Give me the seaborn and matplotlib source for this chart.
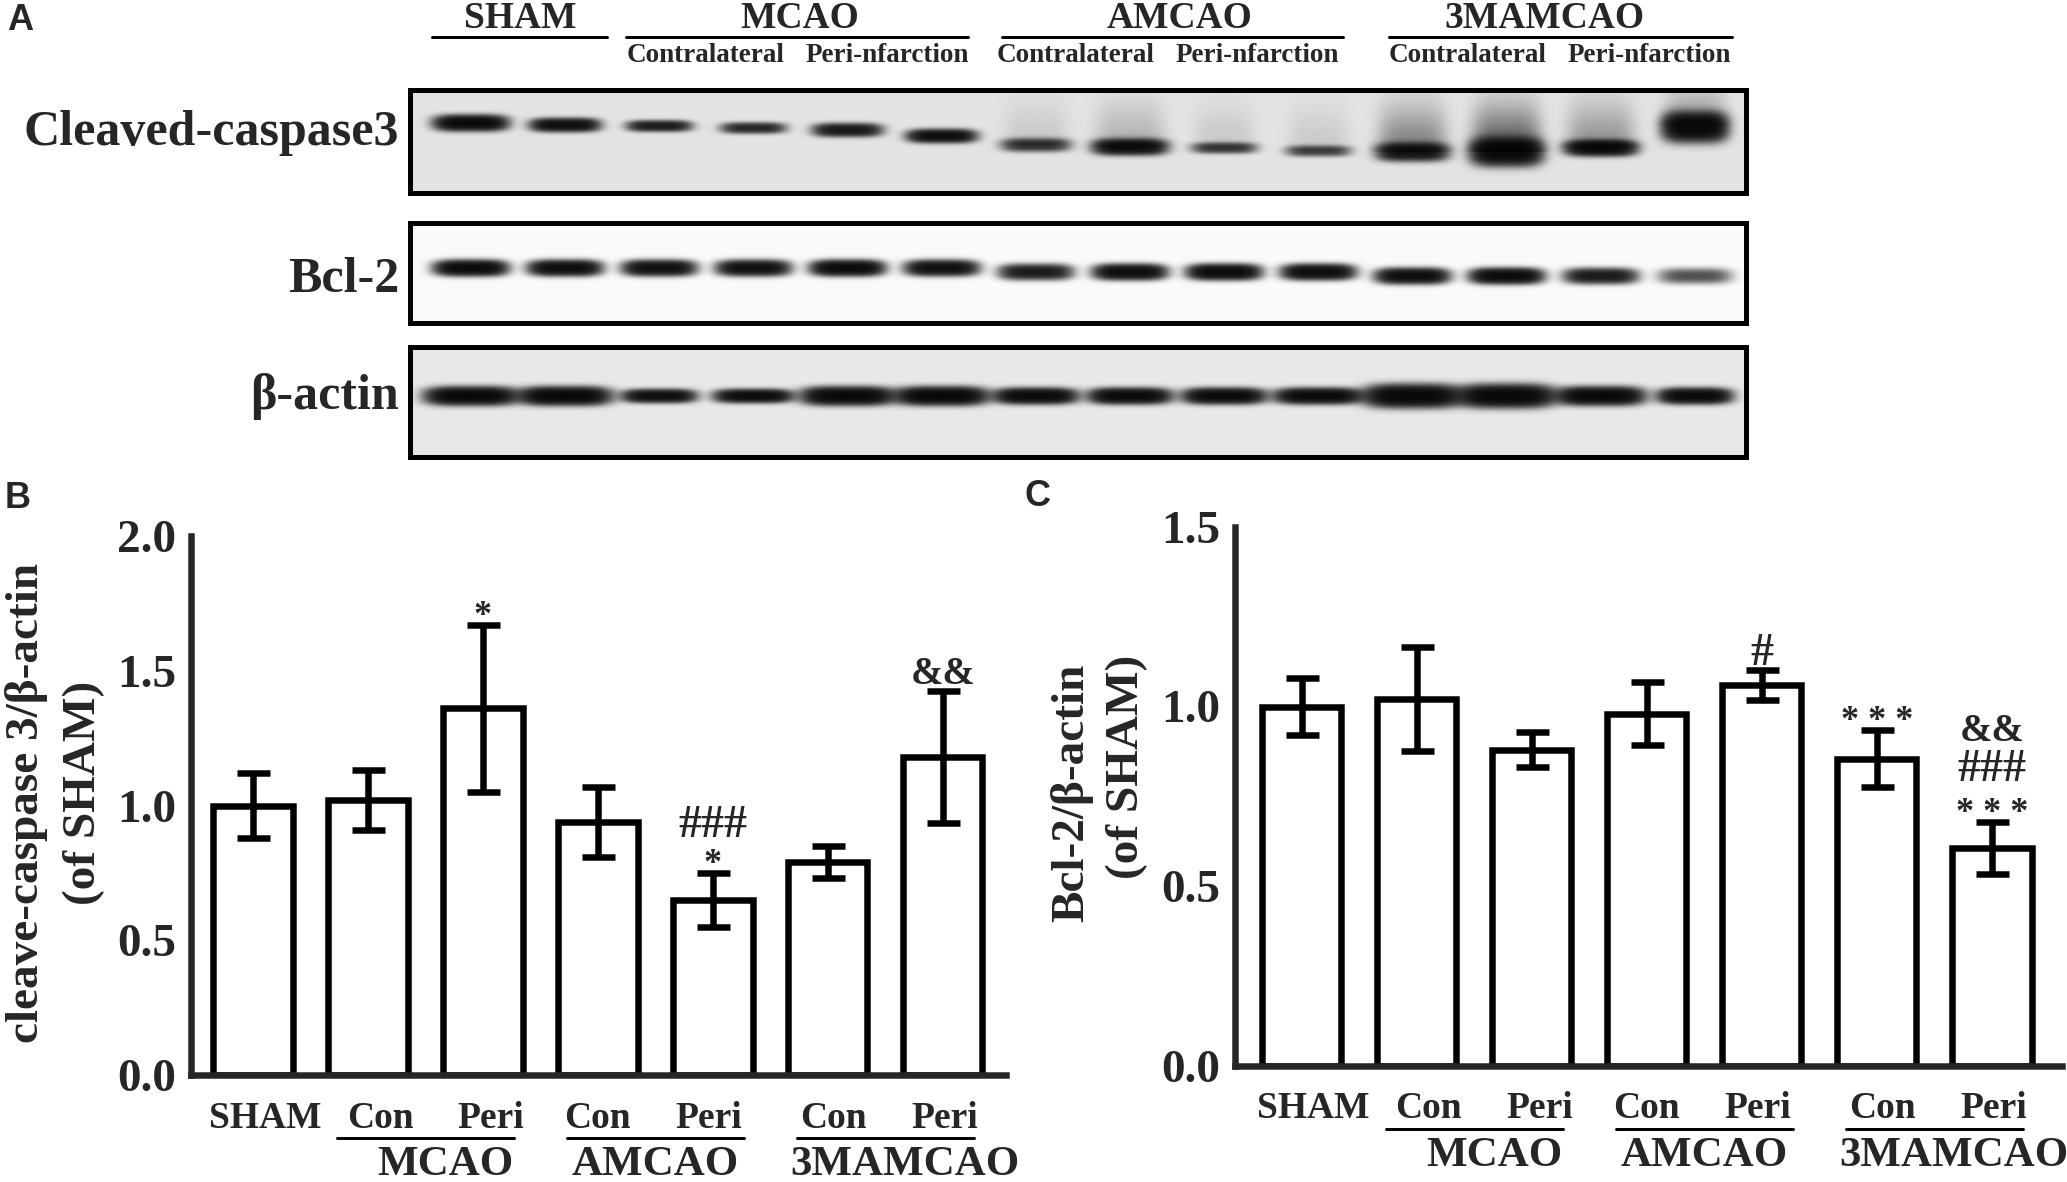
import numpy as np
import pandas as pd
import matplotlib
matplotlib.use("Agg")
import matplotlib.pyplot as plt
import matplotlib.transforms as mtransforms
from matplotlib.patches import Rectangle
import seaborn as sns

# ---------------- values ----------------
bar_ids = ["SHAM", "MCAO Con", "MCAO Peri", "AMCAO Con", "AMCAO Peri",
           "3MAMCAO Con", "3MAMCAO Peri"]
tick_labels = ["SHAM", "Con", "Peri", "Con", "Peri", "Con", "Peri"]
group_names = ["MCAO", "AMCAO", "3MAMCAO"]

casp_mean = [1.00, 1.02, 1.36, 0.94, 0.65, 0.79, 1.18]
casp_err = [0.12, 0.11, 0.31, 0.13, 0.10, 0.06, 0.245]

bcl_mean = [1.00, 1.02, 0.88, 0.98, 1.06, 0.855, 0.605]
bcl_err = [0.078, 0.145, 0.048, 0.088, 0.043, 0.08, 0.072]

# significance marks, listed bottom -> top above the error bar
casp_marks = {2: ["*"], 4: ["*", "###"], 6: ["&&"]}
bcl_marks = {4: ["#"], 5: ["* * *"], 6: ["* * *", "###", "&&"]}

# western blot (panel A)
blot_groups = ["SHAM", "MCAO", "AMCAO", "3MAMCAO"]
blot_sub = ["Contralateral", "Peri-nfarction"]
blot_rows = ["Cleaved-caspase3", "Bcl-2", "β-actin"]
casp_band = [0.95, 0.85, 0.65, 0.55, 0.7, 0.85, 0.5, 0.9, 0.45, 0.4, 0.8, 1.0, 0.95, 1.0]
casp_smear = [0, 0, 0, 0, 0, 0, 0.04, 0.08, 0.04, 0.04, 0.18, 0.28, 0.14, 0.1]
bcl_band = [0.95, 0.9, 0.85, 0.85, 0.95, 0.85, 0.7, 0.9, 0.95, 0.9, 0.9, 0.95, 0.7, 0.35]
actin_band = [1.0, 1.0, 0.85, 0.9, 1.0, 1.0, 0.95, 0.95, 0.95, 0.95, 1.0, 1.0, 1.0, 0.95]

# band shapes (pixels)
casp_y = [123, 125, 126, 128, 130, 136, 145, 147, 148, 151, 152, 152, 148, 127]
casp_hh = [7, 6, 5, 5, 6, 6, 6, 7, 5, 5, 8, 12, 7, 13]
casp_hw = [34, 32, 30, 30, 32, 32, 32, 34, 30, 30, 33, 33, 33, 30]
bcl_y = [268] * 6 + [272] * 4 + [276] * 4
actin_hh = [8, 8, 6, 6, 8, 8, 7, 7, 7, 7, 10, 10, 8, 7]
actin_hw = [42, 42, 34, 36, 42, 42, 38, 38, 38, 40, 44, 44, 40, 34]

W, H = 2067, 1182
SERIF = "Liberation Serif"
LW = 6.5  # main line width in pixels


def px(v):
    # pixels -> points at dpi 100
    return v * 0.72


sns.set_style("white")
plt.rcParams["font.family"] = [SERIF, "DejaVu Serif"]
plt.rcParams["font.weight"] = "bold"

fig = plt.figure(figsize=(W / 100, H / 100), dpi=100)

# overlay in pixel coordinates for panel A and free text
ov = fig.add_axes([0, 0, 1, 1])
ov.set_axis_off()

lane_x = np.linspace(471, 1695, 14)
BX0, BX1 = 410, 1746


def draw_blot(y0, y1, bands, yc, hh, hw, bg, smear=None):
    xs = np.arange(BX0, BX1) + 0.5
    ys = np.arange(y0, y1) + 0.5
    X, Y = np.meshgrid(xs, ys)
    raw = np.zeros_like(X)
    for k, lx in enumerate(lane_x):
        prof_x = np.exp(-(np.abs(X - lx) / hw[k]) ** 4)
        raw += bands[k] * prof_x * np.exp(-(np.abs(Y - yc[k]) / hh[k]) ** 2.5)
        if smear is not None and smear[k] > 0:
            raw += smear[k] * prof_x * (Y < yc[k]) * np.exp(-((Y - yc[k]) / 40) ** 2)
    dark = 1 - np.exp(-3.2 * raw)
    img = bg * (1 - dark)
    ov.imshow(img, cmap="gray", vmin=0, vmax=1, extent=(BX0, BX1, y1, y0),
              interpolation="bilinear", aspect="auto")
    ov.add_patch(Rectangle((BX0, y0), BX1 - BX0, y1 - y0, fill=False,
                           lw=px(5), ec="black", zorder=3))


draw_blot(90, 193, casp_band, casp_y, casp_hh, casp_hw, 0.89, casp_smear)
draw_blot(223, 323, bcl_band, bcl_y, [7] * 14, [34] * 14, 0.98)
draw_blot(347, 457, actin_band, [396] * 14, actin_hh, actin_hw, 0.91)

ov.set_xlim(0, W)
ov.set_ylim(H, 0)

# blot row labels
for lab, y in zip(blot_rows, [133, 280, 396]):
    ov.text(399, y, lab, ha="right", va="center", fontsize=36)

# blot headers
head_x = [520, 800, 1180, 1545]
head_line = [(432, 607), (626, 968), (1002, 1343), (1389, 1732)]
sub_x = [(706, 887), (1076, 1257), (1468, 1649)]
for i, g in enumerate(blot_groups):
    ov.text(head_x[i], 19, g, ha="center", va="center", fontsize=27)
    ov.plot(head_line[i], [37, 37], color="black", lw=px(3))
for pair in sub_x:
    for x, s in zip(pair, blot_sub):
        ov.text(x, 56, s, ha="center", va="center", fontsize=19.5)

# panel letters
for lab, x, y in [("A", 20, 20), ("B", 18, 498), ("C", 1038, 496)]:
    ov.text(x, y, lab, ha="center", va="center", fontsize=26,
            family="Liberation Sans", weight="bold")

# y-axis titles
ov.text(27, 803, "cleave-caspase 3/β-actin", rotation=90, ha="center",
        va="center", fontsize=34)
ov.text(84, 793, "(of SHAM)", rotation=90, ha="center", va="center", fontsize=34)
ov.text(1072, 793, "Bcl-2/β-actin", rotation=90, ha="center", va="center",
        fontsize=34)
ov.text(1127, 767, "(of SHAM)", rotation=90, ha="center", va="center", fontsize=34)

tick_shift = [12, 12, 8, 0, -4, 6, 2]   # pixels
group_shift = [20, 0, 20]               # pixels
mark_size = {"*": 26, "#": 33, "&": 28}


def bar_panel(rect, means, errs, marks, ymax, xlim, step):
    ax = fig.add_axes(rect)
    ax.patch.set_alpha(0)
    df = pd.DataFrame({"bar": bar_ids, "value": means})
    sns.barplot(data=df, x="bar", y="value", order=bar_ids, color="white",
                edgecolor="black", linewidth=px(LW), width=0.69, saturation=1,
                errorbar=None, ax=ax)
    ax.errorbar(range(len(means)), means, yerr=errs, fmt="none", ecolor="black",
                elinewidth=px(LW), capsize=px(16.5), capthick=px(LW), zorder=5)
    sns.despine(ax=ax)
    for s in ["left", "bottom"]:
        ax.spines[s].set_linewidth(px(LW))
    ax.set_ylim(0, ymax)
    ax.set_xlim(*xlim)
    yt = np.arange(0, ymax + 0.01, 0.5)
    ax.set_yticks(yt)
    ax.set_yticklabels([f"{t:.1f}" for t in yt])
    ax.tick_params(axis="y", length=px(11), width=px(LW), pad=px(4), labelsize=34)
    ax.tick_params(axis="x", length=px(14), width=px(LW), labelbottom=False)
    ax.set_xlabel("")
    ax.set_ylabel("")

    trans = mtransforms.blended_transform_factory(ax.transData, ax.transAxes)
    for i, lab in enumerate(tick_labels):
        ax.annotate(lab, xy=(i, 0), xycoords=trans,
                    xytext=(px(tick_shift[i]), -px(43)),
                    textcoords="offset points", ha="center", va="center",
                    fontsize=27, annotation_clip=False)
    line_tr = mtransforms.offset_copy(trans, fig=fig, y=-px(63), units="points")
    for g, name in enumerate(group_names):
        c = 1.5 + 2 * g
        ax.plot([c - 0.77, c + 0.77], [0, 0], transform=line_tr, color="black",
                lw=px(3), clip_on=False)
        ax.annotate(name, xy=(c, 0), xycoords=trans,
                    xytext=(px(group_shift[g]), -px(90)),
                    textcoords="offset points", ha="center", va="center",
                    fontsize=31, annotation_clip=False)

    for i, labs in marks.items():
        top = means[i] + errs[i]
        for k, lab in enumerate(labs):
            fs = mark_size[lab[0]]
            em = fs / 0.72
            centre = 20 + k * step
            mid = 0.55 * em if "*" in lab else 0.34 * em
            ax.annotate(lab, xy=(i, top), xytext=(0, px(centre - mid)),
                        textcoords="offset points", ha="center", va="baseline",
                        fontsize=fs, annotation_clip=False)
    return ax


axB = bar_panel([191 / W, 1 - 1075 / H, (1006 - 191) / W, (1075 - 536) / H],
                casp_mean, casp_err, casp_marks, 2.0, (-0.54, 6.55), 31)
axC = bar_panel([1235 / W, 1 - 1065.5 / H, (2062 - 1235) / W, (1065.5 - 527) / H],
                bcl_mean, bcl_err, bcl_marks, 1.5, (-0.58, 6.61), 37.5)

fig.savefig("out.png", dpi=100)
